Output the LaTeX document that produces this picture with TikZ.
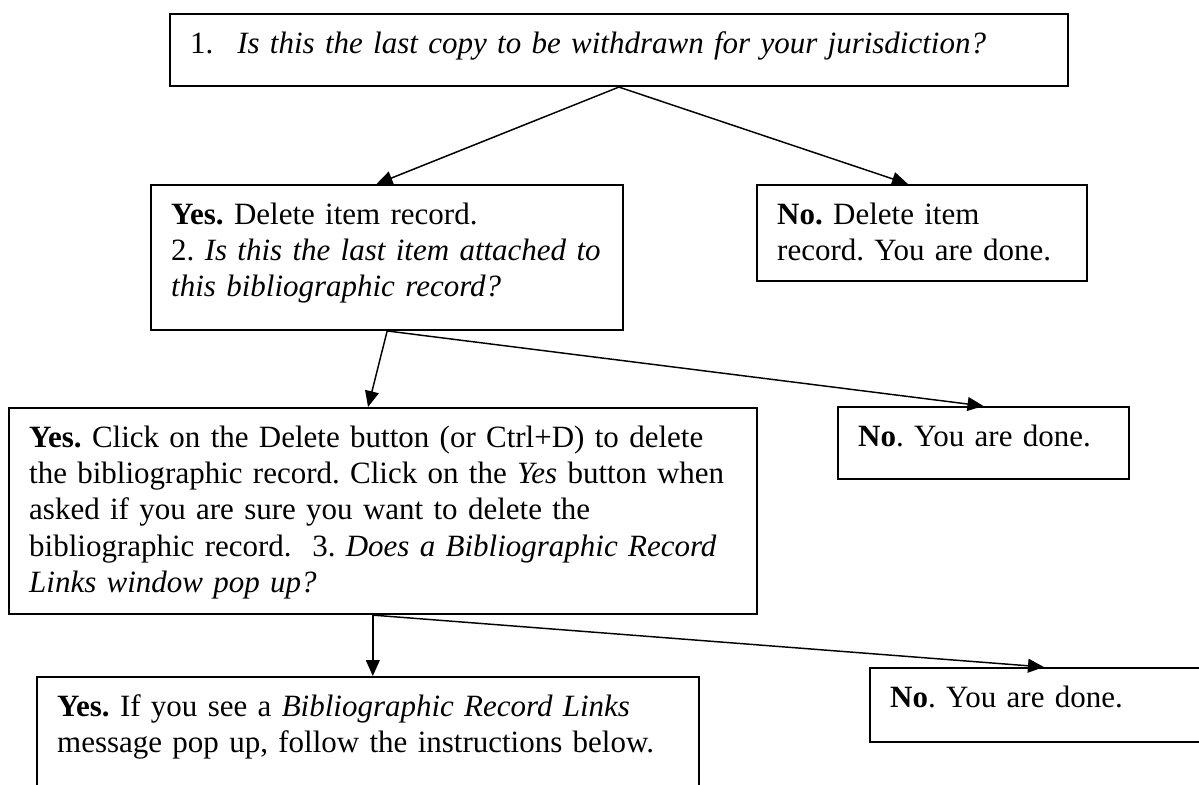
\documentclass[tikz,border=0pt]{standalone}
\usepackage{fontspec}
\setmainfont{Liberation Serif}
\usetikzlibrary{arrows.meta}
\frenchspacing
\begin{document}
\begin{tikzpicture}[x=0.376pt,y=-0.376pt,
  card/.style 2 args={draw,line width=0.75pt,anchor=north west,align=left,
    font=\fontsize{11.65pt}{13.7pt}\selectfont,inner xsep=7.6pt,inner ysep=5.1pt,
    text height=9.6pt,text width=#1,text depth=#2},
  arr/.style={-{Triangle[length=6pt,width=5.2pt]},line width=0.55pt}]
\useasboundingbox (0,0) rectangle (1199,784);
\node[card={322.4pt}{7.3pt}] (q1) at (169,13)
  {\makebox[17.7pt][l]{1.}\textit{Is this the last copy to be withdrawn for your jurisdiction?}};
\node[card={162.4pt}{34.7pt}] (yes1) at (150,184)
  {\textbf{Yes.} Delete item record.\\ 2. \textit{Is this the last item attached to}\\ \textit{this bibliographic record?}};
\node[card={108.9pt}{16.3pt}] (no1) at (756,184)
  {\textbf{No.} Delete item\\ record. You are done.};
\node[card={266pt}{57.7pt}] (yes2) at (8,407)
  {\textbf{Yes.} Click on the Delete button (or Ctrl+D) to delete\\
   the bibliographic record. Click on the \textit{Yes} button when\\
   asked if you are sure you want to delete the\\
   bibliographic record.~\ 3. \textit{Does a Bibliographic Record}\\
   \textit{Links window pop up?}};
\node[card={94.2pt}{7.3pt}] (no2) at (837,406) {\textbf{No}. You are done.};
\node[card={233.7pt}{26.8pt}] (yes3) at (36,676)
  {\textbf{Yes.} If you see a \textit{Bibliographic Record Links}\\ message pop up, follow the instructions below.};
\node[card={115.6pt}{8pt}] (no3) at (869,667) {\textbf{No}. You are done.};
\coordinate (s4) at ([xshift=-3.8pt]yes2.south);
\draw[arr] (q1.south) -- ([xshift=-4pt]yes1.north);
\draw[arr] (q1.south) -- ([xshift=-5.3pt]no1.north);
\draw[arr] (yes1.south) -- ([xshift=-5.6pt]yes2.north);
\draw[arr] (yes1.south) -- (no2.north);
\draw[arr] (s4) -- (s4 |- yes3.north);
\draw[arr] (s4) -- (no3.north);
\end{tikzpicture}
\end{document}
